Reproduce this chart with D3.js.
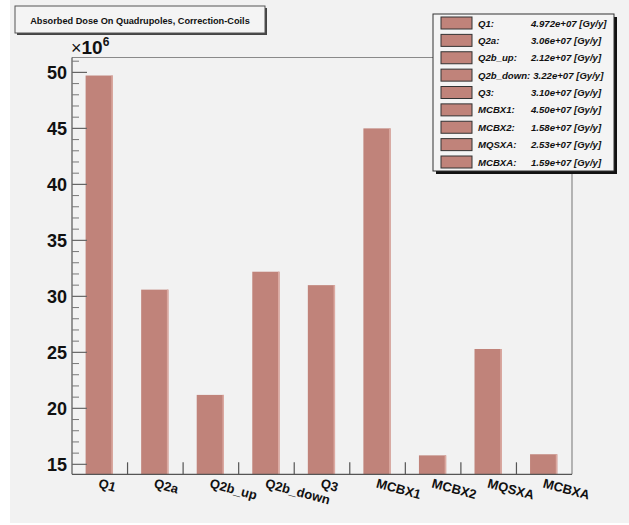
<!DOCTYPE html>
<html>
<head>
<meta charset="utf-8">
<script src="https://cdn.jsdelivr.net/npm/d3@7"></script>
<style>
  html, body { margin: 0; padding: 0; background: #ffffff; }
  svg { display: block; font-family: "Liberation Sans", Arial, Helvetica, sans-serif; }
</style>
</head>
<body>
<svg id="chart" width="629" height="525"></svg>
<script>
// Magnet names along the x axis
const categories = ["Q1", "Q2a", "Q2b_up", "Q2b_down", "Q3", "MCBX1", "MCBX2", "MQSXA", "MCBXA"];
// Absorbed dose per magnet in Gy/y, as printed in the legend
const doseText = ["4.972e+07", "3.06e+07", "2.12e+07", "3.22e+07", "3.10e+07", "4.50e+07", "1.58e+07", "2.53e+07", "1.59e+07"];
// Bar heights in units of 10^6 Gy/y
const doseMillions = doseText.map(s => +s / 1e6);
// Y axis labelled ticks
const yTicks = [15, 20, 25, 30, 35, 40, 45, 50];

const titleText = "Absorbed Dose On Quadrupoles, Correction-Coils";
const barColor = "#c0837a";
const svg = d3.select("#chart");

// canvas pad
svg.append("rect").attr("x", 10).attr("y", 0).attr("width", 619).attr("height", 523).attr("fill", "#f2f2f2");

const frame = { left: 72, right: 572, top: 57.5, bottom: 474.3 };

const x = d3.scaleBand().domain(categories).range([frame.left, frame.right]).padding(0);
const y = d3.scaleLinear().domain([14.11, 51.33]).range([frame.bottom, frame.top]);

// bars
const bw = x.bandwidth();
const bars = svg.append("g");
bars.selectAll("rect.bar").data(categories).join("rect")
  .attr("class", "bar")
  .attr("x", d => x(d) + bw * 0.245)
  .attr("width", bw * 0.49)
  .attr("y", (d, i) => y(doseMillions[i]))
  .attr("height", (d, i) => frame.bottom - y(doseMillions[i]))
  .attr("fill", barColor);
// light highlight on right edge of each bar
bars.selectAll("rect.edge").data(categories).join("rect")
  .attr("class", "edge")
  .attr("x", d => x(d) + bw * 0.735 - 1.5)
  .attr("width", 1.5)
  .attr("y", (d, i) => y(doseMillions[i]))
  .attr("height", (d, i) => frame.bottom - y(doseMillions[i]))
  .attr("fill", "#dcaaa2");

// frame top/right
svg.append("path")
  .attr("d", `M${frame.left},${frame.top}H${frame.right}V${frame.bottom}`)
  .attr("fill", "none").attr("stroke", "#8a8a8a").attr("stroke-width", 1.2);

// y axis
const yAxis = svg.append("g");
yAxis.append("line").attr("x1", frame.left).attr("x2", frame.left)
  .attr("y1", frame.top).attr("y2", frame.bottom).attr("stroke", "#555").attr("stroke-width", 1.2);
const minor = d3.range(15, 52, 1).filter(v => !yTicks.includes(v));
yAxis.selectAll("line.minor").data(minor).join("line")
  .attr("x1", frame.left).attr("x2", frame.left + 7)
  .attr("y1", d => y(d)).attr("y2", d => y(d))
  .attr("stroke", "#777").attr("stroke-width", 1);
yAxis.selectAll("line.major").data(yTicks).join("line")
  .attr("x1", frame.left).attr("x2", frame.left + 15)
  .attr("y1", d => y(d)).attr("y2", d => y(d))
  .attr("stroke", "#666").attr("stroke-width", 1.2);
yAxis.selectAll("text").data(yTicks).join("text")
  .attr("x", frame.left - 5).attr("y", d => y(d) + 6.5)
  .attr("text-anchor", "end").attr("font-size", 18).attr("font-weight", "bold")
  .attr("fill", "#111").text(d => d);

// exponent label
const expo = svg.append("text").attr("x", 71).attr("y", 53.5).attr("fill", "#111");
expo.append("tspan").attr("font-size", 18).text("\u00d7");
expo.append("tspan").attr("font-size", 19).attr("font-weight", "bold").text("10");
expo.append("tspan").attr("font-size", 12).attr("font-weight", "bold").attr("dy", -8).text("6");

// x axis
const xAxis = svg.append("g");
xAxis.append("line").attr("x1", frame.left).attr("x2", frame.right)
  .attr("y1", frame.bottom).attr("y2", frame.bottom).attr("stroke", "#555").attr("stroke-width", 1.2);
xAxis.selectAll("line.tick").data(categories.slice(1)).join("line")
  .attr("x1", d => x(d)).attr("x2", d => x(d))
  .attr("y1", frame.bottom).attr("y2", frame.bottom - 12)
  .attr("stroke", "#555").attr("stroke-width", 1.2);
xAxis.selectAll("text").data(categories).join("text")
  .attr("transform", d => `translate(${x(d) + bw / 2 - 2},${frame.bottom + 13}) rotate(15)`)
  .attr("font-size", 13).attr("font-weight", "bold").attr("fill", "#111")
  .text(d => d);

// title box
const title = svg.append("g");
title.append("rect").attr("x", 17).attr("y", 8).attr("width", 250).attr("height", 27).attr("fill", "#444");
title.append("rect").attr("x", 15).attr("y", 6).attr("width", 250).attr("height", 27)
  .attr("fill", "#f4f4f4").attr("stroke", "#555").attr("stroke-width", 1);
title.append("text").attr("x", 140).attr("y", 23.5).attr("text-anchor", "middle")
  .attr("font-size", 9.2).attr("font-weight", "bold").attr("fill", "#111").text(titleText);

// legend
const lg = { x: 433, y: 14, w: 181, h: 157 };
const legend = svg.append("g");
legend.append("rect").attr("x", lg.x + 3).attr("y", lg.y + 3).attr("width", lg.w).attr("height", lg.h).attr("fill", "#111");
legend.append("rect").attr("x", lg.x).attr("y", lg.y).attr("width", lg.w).attr("height", lg.h)
  .attr("fill", "#f4f4f4").attr("stroke", "#333").attr("stroke-width", 1);
const rowY = d3.scalePoint().domain(categories).range([lg.y + 9, lg.y + 148]);
legend.selectAll("rect.sw").data(categories).join("rect")
  .attr("class", "sw")
  .attr("x", 441).attr("y", d => rowY(d) - 6).attr("width", 31).attr("height", 12)
  .attr("fill", barColor).attr("stroke", "#333").attr("stroke-width", 1);
const names = legend.selectAll("text.name").data(categories).join("text")
  .attr("class", "name")
  .attr("x", 478).attr("y", d => rowY(d) + 3.5)
  .attr("font-size", 9.6).attr("font-weight", "bold").attr("font-style", "italic").attr("fill", "#111")
  .text(d => d + ":");
const nameEnds = names.nodes().map(n => 478 + n.getComputedTextLength());
legend.selectAll("text.val").data(categories).join("text")
  .attr("class", "val")
  .attr("x", (d, i) => Math.max(531, nameEnds[i] + 3)).attr("y", d => rowY(d) + 3.5)
  .attr("font-size", 9.6).attr("font-weight", "bold").attr("font-style", "italic").attr("fill", "#111")
  .text((d, i) => doseText[i] + " [Gy/y]");
</script>
</body>
</html>
